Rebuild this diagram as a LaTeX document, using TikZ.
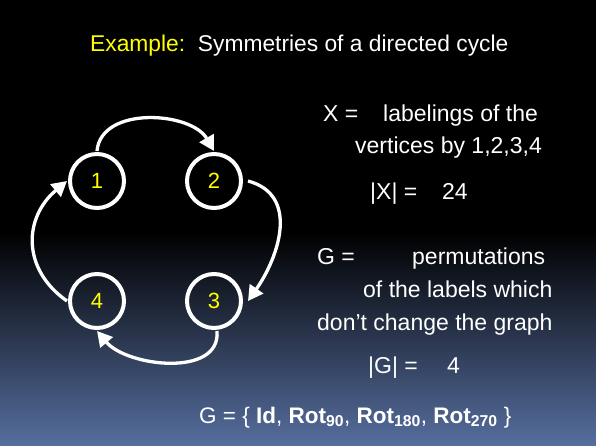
\documentclass[tikz,border=0pt]{standalone}
\usepackage{fontspec}
\setmainfont{Liberation Sans}
\usetikzlibrary{arrows.meta}
\definecolor{bgblue}{RGB}{86,110,158}
\definecolor{ylw}{RGB}{255,255,0}
\begin{document}
\begin{tikzpicture}[x=1pt,y=-1pt,
  vtx/.style={circle,draw=white,line width=4pt,minimum size=54pt,inner sep=0pt,outer sep=3pt,text=ylw,font=\fontsize{22}{22}\selectfont},
  arr/.style={draw=white,line width=3.3pt,-{Triangle[length=15pt,width=16pt]}},
  txt/.style={anchor=base west,inner sep=0pt,text=white,font=\fontsize{23}{23}\selectfont}]
\useasboundingbox (0,0) rectangle (596,446);
\fill[black] (0,0) rectangle (596,446);
\shade[top color=black,bottom color=bgblue] (0,232) rectangle (596,446);
% title
\node[txt,font=\fontsize{22.8}{22.8}\selectfont] (title) at (90,52) {\textcolor{ylw}{Example:}\ \ Symmetries of a directed cycle};
% vertices
\node[vtx] (n1) at (97,181) {1};
\node[vtx] (n2) at (214,181) {2};
\node[vtx] (n3) at (214,301) {3};
\node[vtx] (n4) at (97,301) {4};
% arrows
\draw[arr] (n1.north) to[out=85,in=120,looseness=1.0] (n2.north);
\draw[arr] ([xshift=4pt]n2.east) to[out=-15,in=55,looseness=1.15] ([xshift=4pt]n3.east);
\draw[arr] ([xshift=3pt]n3.south) to[out=-85,in=-50,looseness=1.0] (n4.south);
\draw[arr] (n4.west) to[out=145,in=-140,looseness=1.2] (n1.west);
% right text
\node[txt] (xeq) at (323,122) {X =};
\node[txt] (xdef1) at (383,122) {labelings of the};
\node[txt] (xdef2) at (355,154) {vertices by 1,2,3,4};
\node[txt] (xcard) at (370,200) {|X| =};
\node[txt] (xnum) at (442,200) {24};
\node[txt] (geq) at (317,264) {G =};
\node[txt] (gdef1) at (412,264) {permutations};
\node[txt] (gdef2) at (363,297) {of the labels which};
\node[txt] (gdef3) at (317,330) {don’t change the graph};
\node[txt] (gcard) at (368,373) {|G| =};
\node[txt] (gnum) at (447,373) {4};
\node[txt,font=\fontsize{22.5}{22.5}\selectfont] (gset) at (199,423) {G = \{ \textbf{Id}, \textbf{Rot\textsubscript{90}}, \textbf{Rot\textsubscript{180}}, \textbf{Rot\textsubscript{270}} \}};
\end{tikzpicture}
\end{document}
